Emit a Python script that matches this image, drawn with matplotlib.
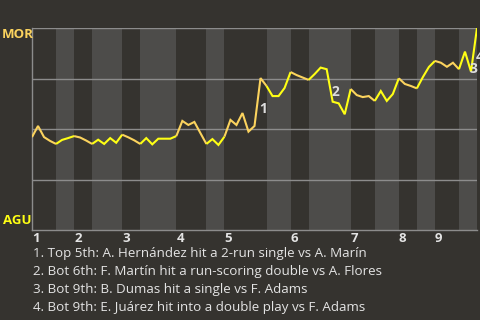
import matplotlib
matplotlib.use("Agg")
import matplotlib.pyplot as plt
import numpy as np

plt.rcParams['font.family'] = ['Open Sans', 'DejaVu Sans']

# MOR win probability (%) after each plate appearance (index = PA number)
mor_wp = [46.0, 51.5, 46.0, 44.1, 42.6, 44.6, 45.5, 46.5, 45.8, 44.3,
          42.6, 44.7, 42.6, 45.5, 43.2, 47.2, 45.9, 44.4, 42.6, 45.5,
          42.4, 45.2, 45.2, 45.2, 46.5, 54.0, 52.0, 53.5, 48.0, 42.6,
          45.0, 42.1, 46.2, 54.5, 52.0, 57.9, 48.7, 51.5, 75.2, 71.3,
          66.3, 66.3, 70.3, 78.2, 76.7, 75.5, 74.3, 77.2, 80.4, 79.6,
          63.5, 62.7, 57.3, 69.8, 66.8, 65.8, 66.3, 63.9, 68.8, 63.9,
          67.3, 75.1, 72.3, 71.3, 70.1, 75.7, 80.7, 83.7, 82.8, 80.8,
          82.8, 79.6, 88.3, 78.4, 100.0]

# PA index where each half-inning ends (top 1, bot 1, top 2, ...)
half_bounds = [0, 4, 7, 10, 15, 18, 24, 29, 32, 39, 43, 46, 53, 57, 61, 64, 67, 71, 74]
inning_labels = ['1', '2', '3', '4', '5', '6', '7', '8', '9']
away_team = 'MOR'
home_team = 'AGU'

# key plays: index of the PA that ends the highlighted segment
key_plays = [38, 50, 73, 74]
key_texts = [
    "1. Top 5th: A. Hernández hit a 2-run single vs A. Marín",
    "2. Bot 6th: F. Martín hit a run-scoring double vs A. Flores",
    "3. Bot 9th: B. Dumas hit a single vs F. Adams",
    "4. Bot 9th: E. Juárez hit into a double play vs F. Adams",
]

BG = '#35332f'
BAND = '#4d4c4a'
GRID = '#8c8c8c'
TOP_COL = '#fbd35e'
BOT_COL = '#ffff14'
TXT = '#e4e4e4'

fig = plt.figure(figsize=(4.8, 3.2), dpi=100, facecolor=BG)
ax = fig.add_axes([32/480, 1-230/320, 445/480, 202/320])
ax.set_facecolor(BG)
ax.set_xlim(0, 74)
ax.set_ylim(0, 100)

x = np.arange(len(mor_wp))
y = np.array(mor_wp)

for h in range(len(half_bounds) - 1):
    a, b = half_bounds[h], half_bounds[h + 1]
    if h % 2 == 1:
        ax.axvspan(a, b, color=BAND, lw=0, zorder=0)

for yy in [25, 50, 75, 100]:
    ax.axhline(yy, color=GRID, lw=1.0, zorder=1)

for h in range(len(half_bounds) - 1):
    a, b = half_bounds[h], half_bounds[h + 1]
    col = TOP_COL if h % 2 == 0 else BOT_COL
    ax.plot(x[a:b+1], y[a:b+1], color=col, lw=1.5, zorder=3,
            solid_joinstyle='miter', solid_capstyle='butt')

for i, k in enumerate(key_plays):
    mx = (x[k-1] + x[k]) / 2
    my = (y[k-1] + y[k]) / 2
    ax.annotate(str(i + 1), xy=(mx, my), xytext=(4, -5), textcoords='offset points',
                ha='center', va='center', color='#dddddd', fontsize=10,
                fontweight='bold', zorder=4, annotation_clip=False)

for s in ['top', 'right']:
    ax.spines[s].set_visible(False)
for s in ['left', 'bottom']:
    ax.spines[s].set_color(GRID)
    ax.spines[s].set_linewidth(1.0)
ax.set_yticks([])
starts = [half_bounds[2*i] for i in range(9)]
ax.set_xticks(starts, inning_labels)
ax.tick_params(axis='x', length=0, pad=1.5, colors=TXT, labelsize=9.5)
for lab in ax.get_xticklabels():
    lab.set_ha('left')
    lab.set_fontweight('bold')

fig.text(2/480, 1-35/320, away_team, color=TOP_COL, fontsize=9.5,
         fontweight='bold', ha='left', va='center')
fig.text(3/480, 1-221/320, home_team, color=BOT_COL, fontsize=9.5,
         fontweight='bold', ha='left', va='center')

for j, t in enumerate(key_texts):
    fig.text(33/480, 1-(254 + 18*j)/320, t, color=TXT, fontsize=9.6,
             ha='left', va='center')

fig.savefig('out.png', dpi=100, facecolor=BG)
